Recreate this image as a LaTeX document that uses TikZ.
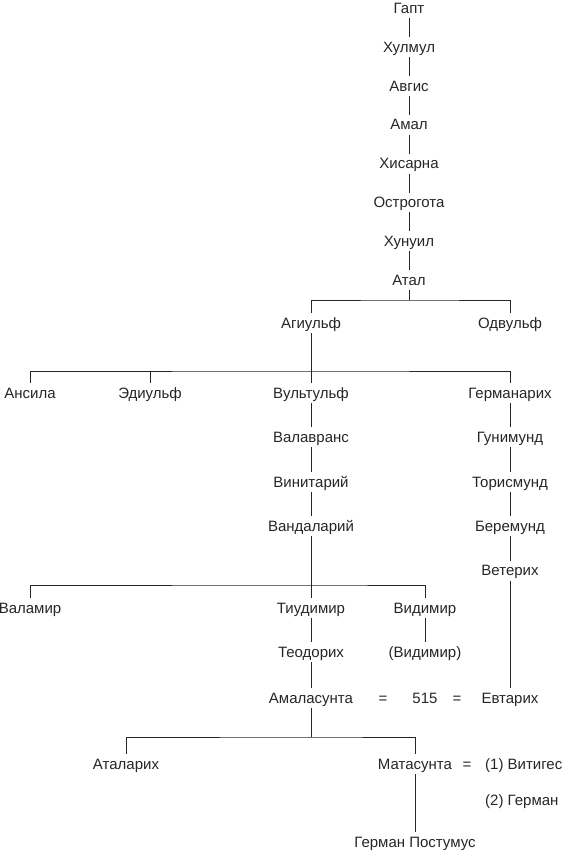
\documentclass[tikz,border=0pt]{standalone}
\usepackage{fontspec}
\setmainfont{Liberation Sans}
\usepackage{tikz}
\usetikzlibrary{positioning}
\definecolor{ink}{HTML}{262626}

\begin{document}
\begin{tikzpicture}[
  x=1pt,y=-1pt,
  every node/.style={font=\fontsize{15}{17}\selectfont,text=ink},
  person/.style={inner xsep=3pt,inner ysep=4.5pt,text height=10.5pt,text depth=0pt},
  link/.style={line width=0.9pt,ink}
]
\useasboundingbox (0,0) rectangle (566,852);
% main line
\node[person] (gapt) at (409,8) {Гапт};
\node[person,below=19pt of gapt] (hulmul) {Хулмул};
\node[person,below=19pt of hulmul] (avgis) {Авгис};
\node[person,below=19pt of avgis] (amal) {Амал};
\node[person,below=19pt of amal] (hisarna) {Хисарна};
\node[person,below=19pt of hisarna] (ostrogota) {Острогота};
\node[person,below=19pt of ostrogota] (hunuil) {Хунуил};
\node[person,below=19pt of hunuil] (atal) {Атал};
\draw[link] (gapt)--(hulmul);
\draw[link] (hulmul)--(avgis);
\draw[link] (avgis)--(amal);
\draw[link] (amal)--(hisarna);
\draw[link] (hisarna)--(ostrogota);
\draw[link] (ostrogota)--(hunuil);
\draw[link] (hunuil)--(atal);
% sons of Atal
\node[person] (agiulf) at (311,323) {Агиульф};
\node[person] (odvulf) at (510,323) {Одвульф};
\coordinate (fork1) at (409,300);
\draw[link] (atal)--(fork1);
\draw[link] (agiulf.north) |- (fork1) -| (odvulf.north);
% sons of Agiulf
\node[person] (ansila) at (30,393) {Ансила};
\node[person] (ediulf) at (150,393) {Эдиульф};
\node[person] (vultulf) at (311,393) {Вультульф};
\node[person] (germanarih) at (510,393) {Германарих};
\coordinate (fork2) at (311,371);
\draw[link] (agiulf)--(vultulf);
\draw[link] (ansila.north) |- (fork2) -| (germanarih.north);
\draw[link] (ediulf.north)--(ediulf.north |- fork2);
% line of Vultulf
\node[person,below=24.5pt of vultulf] (valavrans) {Валавранс};
\node[person,below=24.5pt of valavrans] (vinitary) {Винитарий};
\node[person,below=24.5pt of vinitary] (vandalary) {Вандаларий};
\draw[link] (vultulf)--(valavrans);
\draw[link] (valavrans)--(vinitary);
\draw[link] (vinitary)--(vandalary);
% line of Germanarih
\node[person,below=24.5pt of germanarih] (gunimund) {Гунимунд};
\node[person,below=24.5pt of gunimund] (torismund) {Торисмунд};
\node[person,below=24.5pt of torismund] (beremund) {Беремунд};
\node[person,below=24.5pt of beremund] (veterih) {Ветерих};
\draw[link] (germanarih)--(gunimund);
\draw[link] (gunimund)--(torismund);
\draw[link] (torismund)--(beremund);
\draw[link] (beremund)--(veterih);
% sons of Vandalary
\node[person] (valamir) at (30,608) {Валамир};
\node[person] (tiudimir) at (311,608) {Тиудимир};
\node[person] (vidimir) at (425,608) {Видимир};
\coordinate (fork3) at (311,585);
\draw[link] (vandalary)--(tiudimir);
\draw[link] (valamir.north) |- (fork3) -| (vidimir.north);
\node[person,below=24.5pt of tiudimir] (teodorih) {Теодорих};
\node[person,below=24.5pt of vidimir] (vidimirjr) {(Видимир)};
\draw[link] (tiudimir)--(teodorih);
\draw[link] (vidimir)--(vidimirjr);
% marriage of 515
\node[person] (amalasunta) at (311,698) {Амаласунта};
\node[person] (eqa) at (383,698) {=};
\node[person] (year) at (425,698) {515};
\node[person] (eqb) at (457,698) {=};
\node[person] (evtarih) at (510,698) {Евтарих};
\draw[link] (teodorih)--(amalasunta);
\draw[link] (veterih)--(evtarih);
% children
\node[person] (atalarih) at (126,764) {Аталарих};
\node[person] (matasunta) at (415,764) {Матасунта};
\node[person] (eqc) at (467,764) {=};
\node[person,anchor=west] (vitiges) at (482,764) {(1) Витигес};
\node[person,anchor=west] (german) at (482,800) {(2) Герман};
\coordinate (fork4) at (311,737);
\draw[link] (amalasunta)--(fork4);
\draw[link] (atalarih.north) |- (fork4) -| (matasunta.north);
\node[person] (postumus) at (415,842) {Герман Постумус};
\draw[link] (matasunta)--(postumus);
\end{tikzpicture}
\end{document}
